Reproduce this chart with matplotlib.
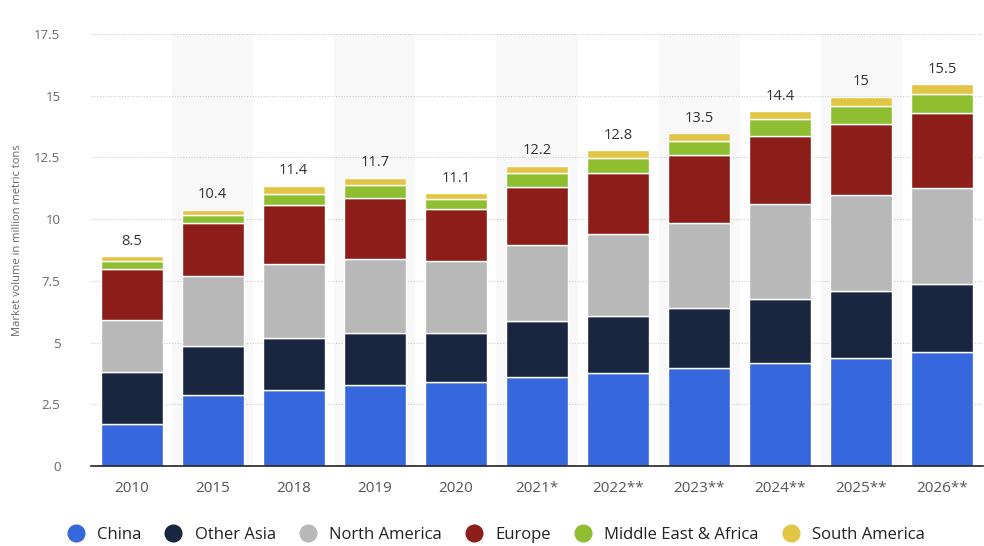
import numpy as np
import matplotlib.pyplot as plt
from matplotlib.lines import Line2D

plt.rcParams['font.family'] = ['Open Sans', 'DejaVu Sans']

# Years (asterisks as in the source)
years = ['2010', '2015', '2018', '2019', '2020', '2021*', '2022**',
         '2023**', '2024**', '2025**', '2026**']

# Market volume in million metric tons
china = [1.70, 2.88, 3.07, 3.28, 3.40, 3.62, 3.78, 3.97, 4.18, 4.39, 4.60]
other_asia = [2.10, 1.99, 2.12, 2.12, 2.00, 2.25, 2.30, 2.42, 2.58, 2.68, 2.78]
north_america = [2.10, 2.83, 2.99, 2.98, 2.89, 3.09, 3.32, 3.47, 3.85, 3.91, 3.89]
europe = [2.10, 2.14, 2.38, 2.46, 2.11, 2.33, 2.47, 2.74, 2.76, 2.87, 3.01]
mea = [0.30, 0.33, 0.47, 0.54, 0.41, 0.56, 0.60, 0.58, 0.70, 0.73, 0.80]
south_america = [0.20, 0.21, 0.33, 0.30, 0.25, 0.31, 0.32, 0.29, 0.30, 0.38, 0.39]
totals = [8.5, 10.4, 11.4, 11.7, 11.1, 12.2, 12.8, 13.5, 14.4, 15, 15.5]

series = [
    ('China', china, '#3667dd'),
    ('Other Asia', other_asia, '#19263f'),
    ('North America', north_america, '#b8b8b8'),
    ('Europe', europe, '#8c1d19'),
    ('Middle East & Africa', mea, '#8fbf31'),
    ('South America', south_america, '#e2c544'),
]

fig = plt.figure(figsize=(9.84, 5.46), dpi=100)
ax = fig.add_axes([91 / 984, 80 / 546, 892 / 984, 432 / 546])

x = np.arange(len(years))

# alternating column shading
for i in x:
    if i % 2 == 1:
        ax.axvspan(i - 0.5, i + 0.5, color='#f8f8f8', zorder=0, lw=0)

bottom = np.zeros(len(years))
for name, vals, color in series:
    ax.bar(x, vals, width=0.765, bottom=bottom, color=color,
           edgecolor='white', linewidth=1.0, zorder=3)
    bottom += np.array(vals)

for i, t in enumerate(totals):
    ax.text(x[i], bottom[i] + 0.3, f'{t:g}', ha='center', va='bottom',
            fontsize=10.5, color='#333333', zorder=4, clip_on=False)

ax.set_xlim(-0.5, len(years) - 0.5)
ax.set_ylim(0, 17.5)
ax.set_yticks(np.arange(0, 17.6, 2.5))
ax.set_yticklabels(['0', '2.5', '5', '7.5', '10', '12.5', '15', '17.5'])
ax.set_xticks(x)
ax.set_xticklabels(years)

ax.yaxis.grid(True, linestyle=(0, (1, 1.5)), color='#cccccc', linewidth=0.8, zorder=1)
ax.set_axisbelow(True)

for s in ['top', 'right', 'left']:
    ax.spines[s].set_visible(False)
ax.spines['bottom'].set_color('#222222')
ax.spines['bottom'].set_linewidth(1.2)
ax.spines['bottom'].set_zorder(5)

ax.tick_params(axis='y', length=0, pad=22, labelsize=9.5, labelcolor='#666666')
ax.tick_params(axis='x', length=0, pad=11, labelsize=11, labelcolor='#555555')

fig.text(18 / 984, 1 - 240 / 546, 'Market volume in million metric tons',
         rotation=90, ha='center', va='center', fontsize=8, color='#666666')

handles = [Line2D([], [], marker='o', linestyle='', markersize=12,
                  markerfacecolor=c, markeredgecolor=c, label=n)
           for n, v, c in series]
fig.legend(handles=handles, loc='center', bbox_to_anchor=(492 / 984, 1 - 535 / 546),
           ncol=6, frameon=False, fontsize=12, handletextpad=0.3,
           columnspacing=0.9, labelcolor='#222222')

fig.savefig('out.png', dpi=100)
